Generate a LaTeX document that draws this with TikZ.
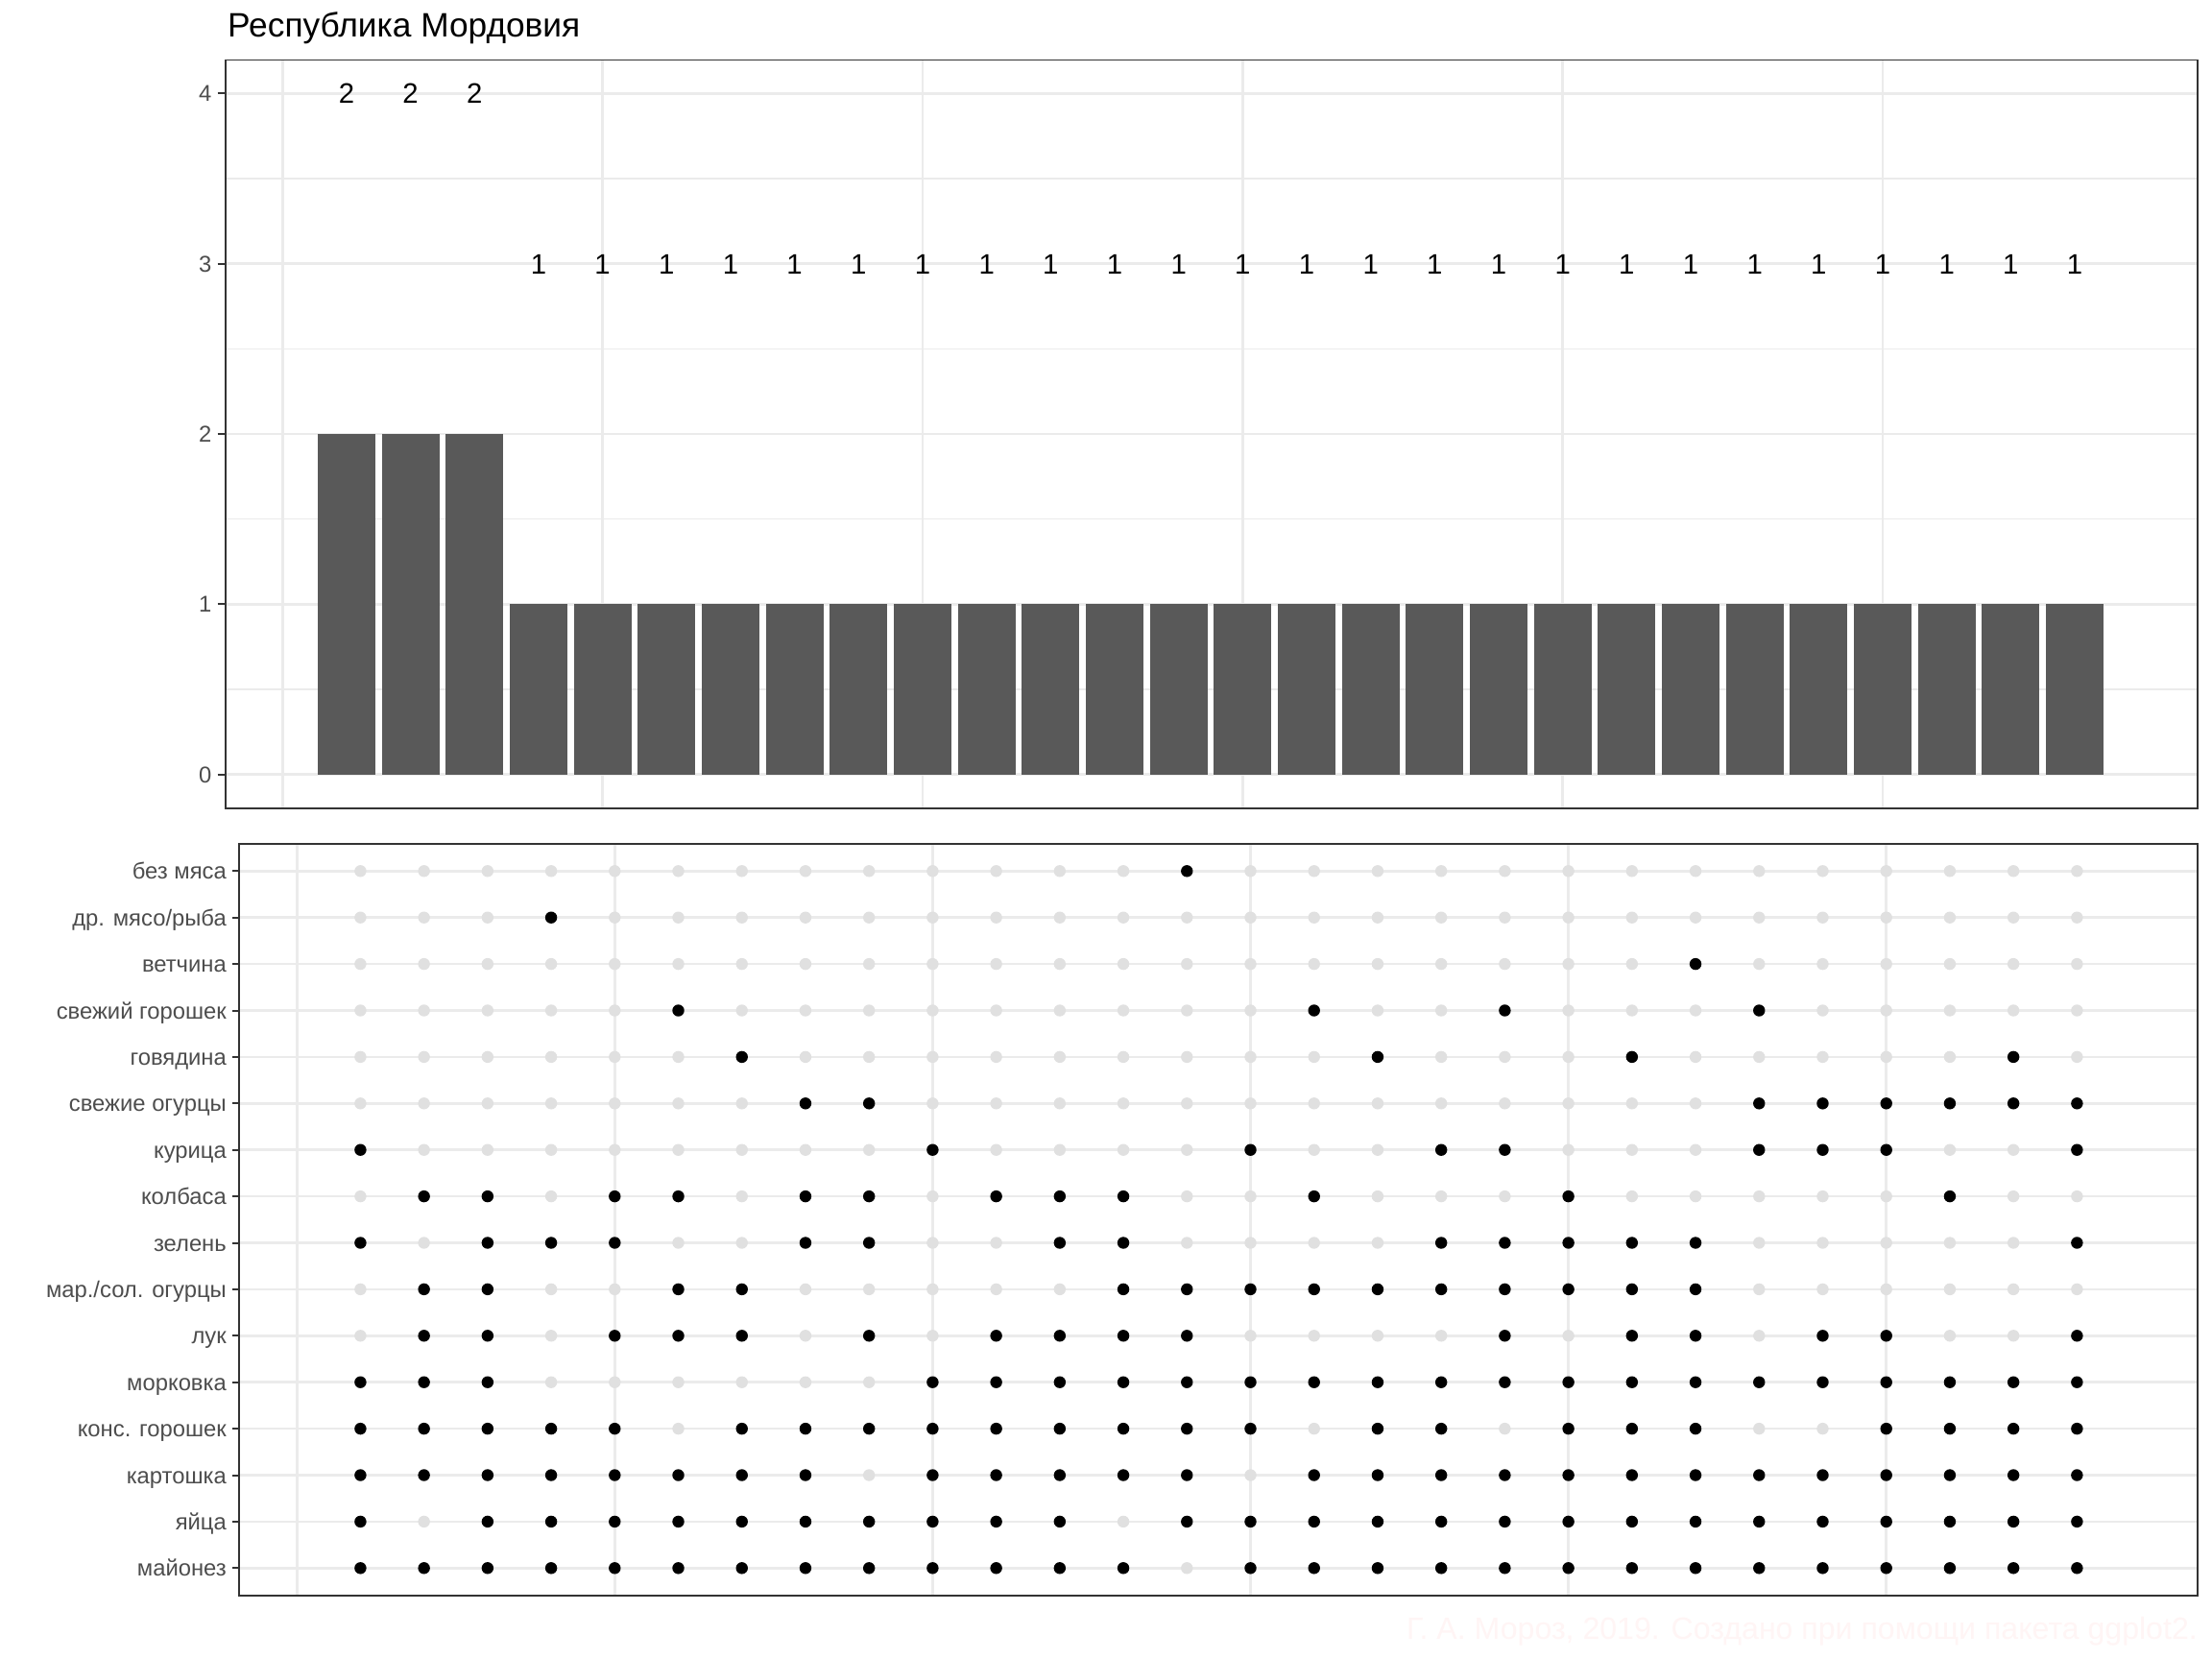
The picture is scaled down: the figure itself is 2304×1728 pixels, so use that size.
\documentclass[tikz,border=0pt]{standalone}
\usepackage{fontspec}
\setmainfont{Liberation Sans}
\definecolor{gridc}{HTML}{EBEBEB}
\definecolor{bordc}{HTML}{333333}
\definecolor{tickl}{HTML}{4D4D4D}
\definecolor{barc}{HTML}{595959}
\definecolor{dotoff}{HTML}{E0E0E0}
\definecolor{capc}{HTML}{FFF5F5}
\begin{document}
\begin{tikzpicture}[x=1pt,y=-1pt,
  gridmajor/.style={draw=gridc,line width=2.7pt},
  gridminor/.style={draw=gridc,line width=1.35pt},
  panelborder/.style={draw=bordc,line width=1.6pt},
  tickmark/.style={draw=bordc,line width=2pt},
  ticklab/.style={anchor=base east,inner sep=0pt,text=tickl,font=\fontsize{23.8}{28}\selectfont},
  barlab/.style={anchor=base,inner sep=0pt,text=black,font=\fontsize{29.3}{33}\selectfont},
  titlestyle/.style={anchor=base west,inner sep=0pt,text=black,font=\fontsize{35.3}{40}\selectfont},
  capstyle/.style={anchor=base east,inner sep=0pt,text=capc,font=\fontsize{32.1}{38}\selectfont},
  dotfull/.style={fill=black},
  dotempty/.style={fill=dotoff}]
\useasboundingbox[fill=white] (0,0) rectangle (2304,1728);

% ---------------- title ----------------
\node[titlestyle] (title) at (237,39) {Республика Мордовия};

% ---------------- top panel ----------------
\foreach \v in {0.5,1.5,2.5,3.5}
  \draw[gridminor] (235,{806.7-177.3*\v}) -- (2288.7,{806.7-177.3*\v});
\foreach \v in {0,...,4}
  \draw[gridmajor] (235,{806.7-177.3*\v}) -- (2288.7,{806.7-177.3*\v});
\foreach \k in {0,5,...,25}
  \draw[gridmajor] ({294.3+66.667*\k},62.7) -- ({294.3+66.667*\k},841.7);
\foreach \n in {1,2,3}{
  \fill[barc] ({294.3+66.667*\n-30},806.7) rectangle ({294.3+66.667*\n+30},{806.7-177.3*2});
  \node[barlab] (lab\n) at ({294.3+66.667*\n},{97.5+10.5}) {2};
}
\foreach \n in {4,...,28}{
  \fill[barc] ({294.3+66.667*\n-30},806.7) rectangle ({294.3+66.667*\n+30},{806.7-177.3});
  \node[barlab] (lab\n) at ({294.3+66.667*\n},{274.8+10.5}) {1};
}
\draw[panelborder] (235,62.7) rectangle (2288.7,841.7);
\foreach \v in {0,...,4}{
  \draw[tickmark] (226.5,{806.7-177.3*\v}) -- (235,{806.7-177.3*\v});
  \node[ticklab] (ty\v) at (220.5,{806.7-177.3*\v+8.5}) {\v};
}

% ---------------- bottom panel ----------------
\foreach \r in {1,...,16}
  \draw[gridmajor] (249,{907.3+48.4*(\r-1)}) -- (2288.7,{907.3+48.4*(\r-1)});
\foreach \k in {0,5,...,25}
  \draw[gridmajor] ({309.2+66.22*\k},879) -- ({309.2+66.22*\k},1661.7);
\foreach \r in {1,...,16}
  \foreach \c in {1,...,28}
    \fill[dotempty] ({309.2+66.22*\c},{907.3+48.4*(\r-1)}) circle (6.2);
\foreach \r/\cols in {
  1/{14},
  2/{4},
  3/{22},
  4/{6,16,19,23},
  5/{7,17,21,27},
  6/{8,9,23,24,25,26,27,28},
  7/{1,10,15,18,19,23,24,25,28},
  8/{2,3,5,6,8,9,11,12,13,16,20,26},
  9/{1,3,4,5,8,9,12,13,18,19,20,21,22,28},
  10/{2,3,6,7,13,14,15,16,17,18,19,20,21,22},
  11/{2,3,5,6,7,9,11,12,13,14,19,21,22,24,25,28},
  12/{1,2,3,10,11,12,13,14,15,16,17,18,19,20,21,22,23,24,25,26,27,28},
  13/{1,2,3,4,5,7,8,9,10,11,12,13,14,15,17,18,20,21,22,25,26,27,28},
  14/{1,2,3,4,5,6,7,8,10,11,12,13,14,16,17,18,19,20,21,22,23,24,25,26,27,28},
  15/{1,3,4,5,6,7,8,9,10,11,12,14,15,16,17,18,19,20,21,22,23,24,25,26,27,28},
  16/{1,2,3,4,5,6,7,8,9,10,11,12,13,15,16,17,18,19,20,21,22,23,24,25,26,27,28}}
  \foreach \c in \cols
    \fill[dotfull] ({309.2+66.22*\c},{907.3+48.4*(\r-1)}) circle (6.2);
\draw[panelborder] (249,879) rectangle (2288.7,1661.7);
\foreach \r/\t in {1/без мяса,2/др. мясо\slash рыба,3/ветчина,4/свежий горошек,
  5/говядина,6/свежие огурцы,7/курица,8/колбаса,9/зелень,10/мар.\slash сол. огурцы,
  11/лук,12/морковка,13/конс. горошек,14/картошка,15/яйца,16/майонез}{
  \draw[tickmark] (242,{907.3+48.4*(\r-1)}) -- (249,{907.3+48.4*(\r-1)});
  \node[ticklab] (row\r) at (236,{907.3+48.4*(\r-1)+8.5}) {\t};
}

% ---------------- caption ----------------
\node[capstyle] (caption) at (2289,1707) {Г. А. Мороз, 2019. Создано при помощи пакета ggplot2.};
\end{tikzpicture}
\end{document}
